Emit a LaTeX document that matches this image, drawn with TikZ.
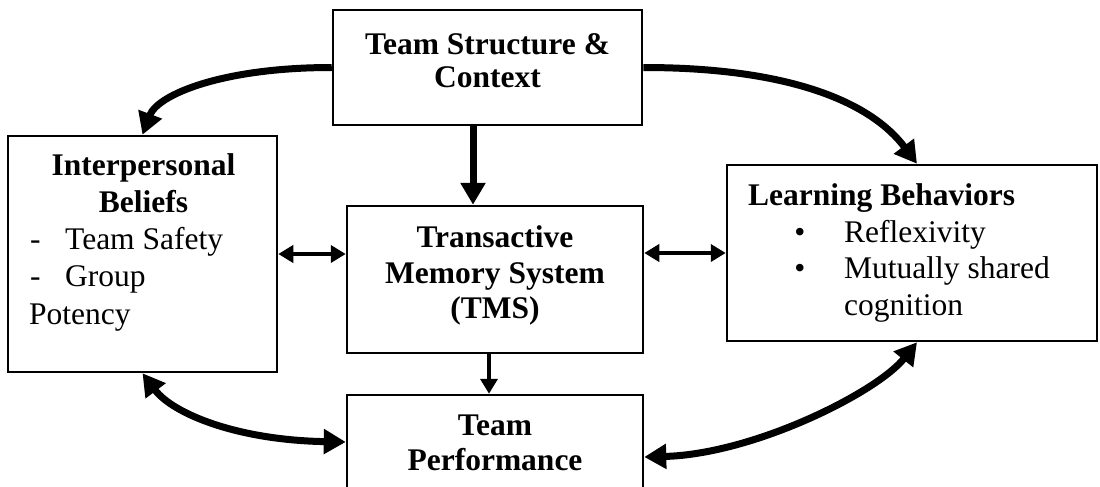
\documentclass[tikz,border=0pt]{standalone}
\usepackage{fontspec}
\setmainfont{Liberation Serif}
\usetikzlibrary{arrows.meta,calc}
\begin{document}
\begin{tikzpicture}[x=1pt,y=-1pt,
  box/.style={draw,line width=2.5pt,inner sep=0pt},
  ttl/.style={font=\fontsize{31.5}{36}\selectfont\bfseries,inner sep=0pt,anchor=base},
  txt/.style={font=\fontsize{31.5}{36}\selectfont,inner sep=0pt,anchor=base west},
  bul/.style={font=\fontsize{31.5}{36}\selectfont,inner sep=0pt,anchor=base},
  big/.style={line width=7pt,-{Triangle[width=24pt,length=22pt]}},
  bigboth/.style={line width=7pt,{Triangle[width=24pt,length=22pt]}-{Triangle[width=24pt,length=22pt]}},
  small/.style={line width=4.5pt,-{Triangle[width=17pt,length=15pt]}},
  smallboth/.style={line width=4.5pt,{Triangle[width=17pt,length=15pt]}-{Triangle[width=17pt,length=15pt]}}
]
\useasboundingbox (0,0) rectangle (1100,487);

% boxes
\node[box,minimum width=309pt,minimum height=115pt] (tsc) at (487.5,67.5) {};
\node[box,minimum width=269pt,minimum height=236pt] (ib) at (142.5,254) {};
\node[box,minimum width=296pt,minimum height=147pt] (tms) at (495,279.5) {};
\node[box,minimum width=370pt,minimum height=176pt] (lb) at (912,253) {};
\node[box,minimum width=296pt,minimum height=120pt] (tp) at (495,455) {};

% texts
\node[ttl] (t1) at (487.5,55) {Team Structure \&};
\node[ttl] (t2) at (487.5,87) {Context};

\node[ttl] (i1) at (143.5,175) {Interpersonal};
\node[ttl] (i2) at (143.5,212) {Beliefs};
\node[txt] (i3d) at (30,249) {-};
\node[txt] (i3) at (65,249) {Team Safety};
\node[txt] (i4d) at (30,286) {-};
\node[txt] (i4) at (65,286) {Group};
\node[txt] (i5) at (29,324) {Potency};

\node[ttl] (m1) at (495,247) {Transactive};
\node[ttl] (m2) at (495,283) {Memory System};
\node[ttl] (m3) at (495,318) {(TMS)};

\node[txt,font=\fontsize{31.5}{36}\selectfont\bfseries] (l1) at (748,205) {Learning Behaviors};
\node[bul] (l2b) at (800,242) {•};
\node[txt] (l2) at (844,242) {Reflexivity};
\node[bul] (l3b) at (800,278) {•};
\node[txt] (l3) at (844,278) {Mutually shared};
\node[txt] (l4) at (844,315) {cognition};

\node[ttl] (p1) at (495,435) {Team};
\node[ttl] (p2) at (495,470) {Performance};

% helper coordinates
\coordinate (va) at ([xshift=-14.5pt]tsc.south);
\coordinate (vb) at (va |- tms.north);
\coordinate (wa) at ([xshift=-6pt]tms.south);
\coordinate (wb) at (wa |- tp.north);
\coordinate (lbn) at ([xshift=5pt]lb.north);
\coordinate (lbs) at ([xshift=5pt]lb.south);
\coordinate (tpw) at ([yshift=13pt]tp.west);
\coordinate (tpe) at ([yshift=-2pt]tp.east);

% connectors
\draw[big] (tsc.west) .. controls +(-110,0) and +(15,-40) .. (ib.north);
\draw[big] (tsc.east) .. controls +(150,0) and +(-45,-60) .. (lbn);
\draw[big] (va) -- (vb);
\draw[smallboth] (ib.east) -- (ib.east -| tms.west);
\draw[smallboth] (lb.west) -- (lb.west -| tms.east);
\draw[small] (wa) -- (wb);
\draw[bigboth] (ib.south) .. controls +(30,40) and +(-110,-2) .. (tpw);
\draw[bigboth] (lbs) .. controls +(-40,50) and +(110,-3) .. (tpe);
\end{tikzpicture}
\end{document}
